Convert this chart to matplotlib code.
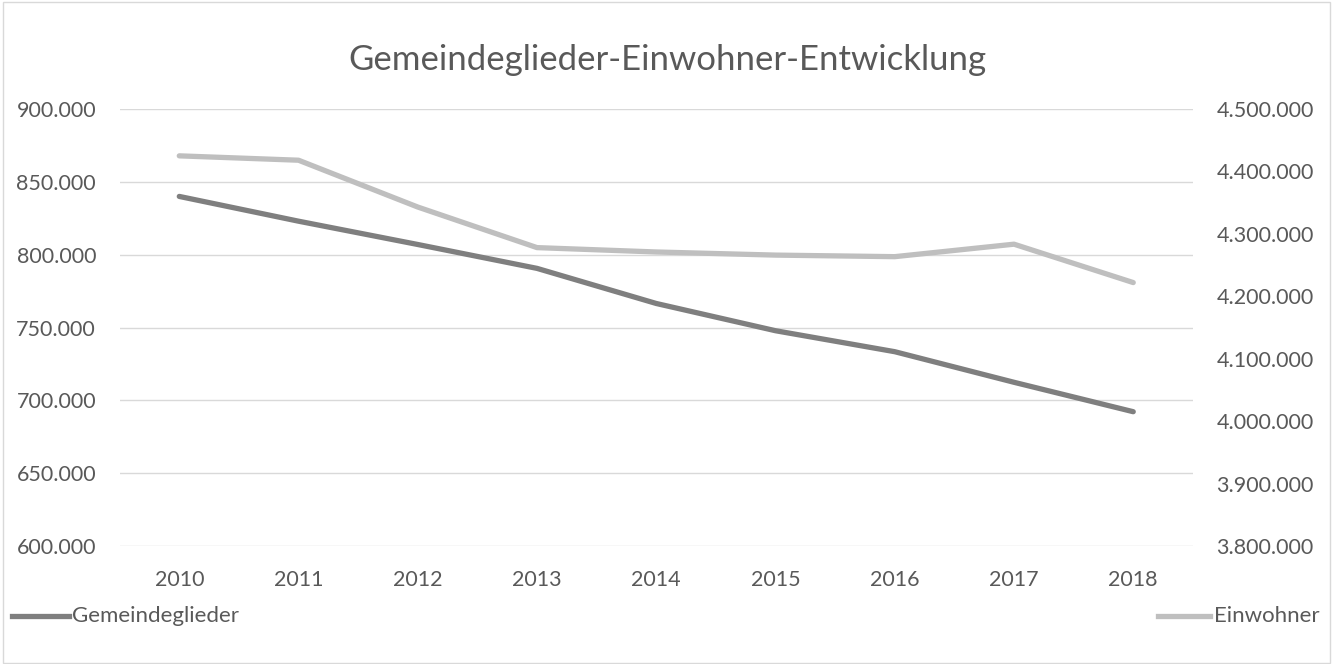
import matplotlib
matplotlib.use('Agg')
import matplotlib.pyplot as plt
from matplotlib.ticker import FuncFormatter
from matplotlib.lines import Line2D
from matplotlib.patches import Rectangle

plt.rcParams['font.family'] = ['Lato', 'DejaVu Sans']

years = ['2010', '2011', '2012', '2013', '2014', '2015', '2016', '2017', '2018']
gemeindeglieder = [840000, 823000, 807000, 790600, 766500, 747800, 733400, 712400, 692200]
einwohner = [4425000, 4418000, 4343000, 4278000, 4271000, 4266000, 4263500, 4283500, 4222000]

text_col = '#595959'
dark = '#7f7f7f'
light = '#bfbfbf'

def dotted(v, pos):
    return '{:,.0f}'.format(v).replace(',', '.')

fig = plt.figure(figsize=(13.34, 6.64), dpi=100)
ax = fig.add_axes([0.0897, 0.1777, 0.8045, 0.6581])
ax2 = ax.twinx()

x = list(range(len(years)))
ax.plot(x, gemeindeglieder, color=dark, lw=3.8, solid_capstyle='round', zorder=3)
ax2.plot(x, einwohner, color=light, lw=3.8, solid_capstyle='round', zorder=3)

ax.set_xlim(-0.5, len(years) - 0.5)
ax.set_ylim(600000, 900000)
ax.set_yticks(range(600000, 900001, 50000))
ax2.set_ylim(3800000, 4500000)
ax2.set_yticks(range(3800000, 4500001, 100000))
ax.yaxis.set_major_formatter(FuncFormatter(dotted))
ax2.yaxis.set_major_formatter(FuncFormatter(dotted))
ax.set_xticks(x)
ax.set_xticklabels(years)

ax.grid(axis='y', color='#d9d9d9', lw=1)
ax.set_axisbelow(True)
for a in (ax, ax2):
    for s in a.spines.values():
        s.set_visible(False)
    a.tick_params(length=0, labelsize=15.5, colors=text_col)
ax.tick_params(axis='y', pad=17)
ax2.tick_params(axis='y', pad=17)
ax.tick_params(axis='x', pad=17)

fig.text(0.5, 0.909, 'Gemeindeglieder-Einwohner-Entwicklung', ha='center', va='center',
         fontsize=25, color=text_col)

# legend entries split left and right like the original
fig.add_artist(Line2D([0.009, 0.052], [0.073, 0.073], color=dark, lw=3.8,
                      transform=fig.transFigure))
fig.text(0.054, 0.073, 'Gemeindeglieder', ha='left', va='center', fontsize=16, color=text_col)
fig.add_artist(Line2D([0.868, 0.907], [0.073, 0.073], color=light, lw=3.8,
                      transform=fig.transFigure))
fig.text(0.910, 0.073, 'Einwohner', ha='left', va='center', fontsize=16, color=text_col)

fig.add_artist(Rectangle((0.002, 0.002), 0.995, 0.995, transform=fig.transFigure,
                         fill=False, edgecolor='#d9d9d9', lw=1))

fig.savefig('out.png', dpi=100)
